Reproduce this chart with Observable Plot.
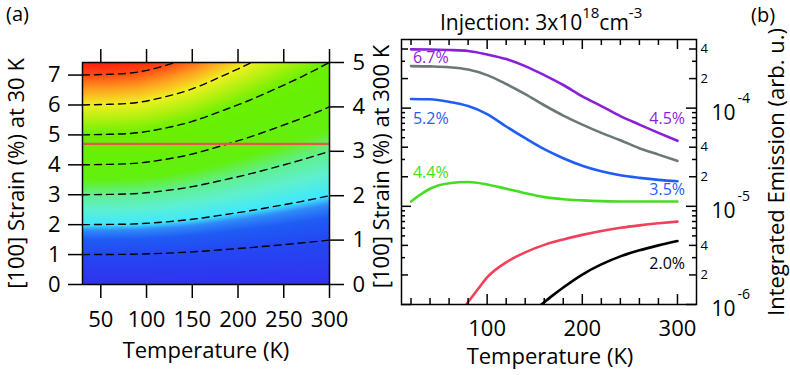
<!DOCTYPE html>
<html><head><meta charset="utf-8">
<script src="https://cdn.jsdelivr.net/npm/d3@7"></script>
<script src="https://cdn.jsdelivr.net/npm/@observablehq/plot@0.6"></script>
<style>
body{margin:0;background:#fff;font-family:"Open Sans",sans-serif;}
#wrap{position:relative;width:790px;height:375px;overflow:hidden;}
#pa{position:absolute;left:0;top:0;}
#pb{position:absolute;left:395px;top:0;}
.lbl{position:absolute;font-family:"Open Sans",sans-serif;color:#000;white-space:nowrap;line-height:1.2;}
.sup{position:relative;font-size:15px;top:-12px;}
</style></head><body>
<div id="wrap">
<div id="pa"></div><div id="pb"></div>
<div class="lbl" style="left:6px;top:2px;font-size:20px">(a)</div>
<div class="lbl" style="left:751px;top:3px;font-size:20px">(b)</div>
<div class="lbl" style="left:440px;top:10px;font-size:21px">Injection: 3x10<span class="sup">18</span>cm<span class="sup">-3</span></div>
</div>
<script>
// ---------- Panel (a) data ----------
const gTemps = [30, 60, 90, 120, 150, 180, 210, 240, 270, 300];
const gFactor = [1.000, 1.004, 1.014, 1.045, 1.09, 1.155, 1.225, 1.305, 1.39, 1.484]; // contour scale factor
const contourLevels = [1, 2, 3, 4, 5, 6, 7];
const leftTicks = [0, 1, 2, 3, 4, 5, 6, 7];
const rightTicks = [0, 1, 2, 3, 4, 5];
const tempTicksA = [50, 100, 150, 200, 250, 300];
const markerStrain = [4.7];
const colorStops = [0, 1.0, 1.5, 1.8, 2.0, 2.5, 3.0, 3.5, 5.0, 5.5, 6.0, 6.5, 7.0, 7.42];
const colorList = ["#3232ee","#2448f2","#1f5cf5","#2f8af8","#40e8ff","#5ef0d0","#60f090","#62f010","#6af000","#b0f010","#f0f020","#ffa020","#ff4a12","#ff1c10"];

// ---------- Panel (b) data ----------
const tempsB = [20,40,60,80,100,120,140,160,180,200,220,240,260,280,300];
const purpleVals = [3.97e-4,3.96e-4,3.91e-4,3.82e-4,3.52e-4,3.16e-4,2.68e-4,2.17e-4,1.72e-4,1.32e-4,1.05e-4,8.3e-5,6.8e-5,5.6e-5,4.65e-5];
const grayVals = [2.68e-4,2.66e-4,2.61e-4,2.47e-4,2.17e-4,1.76e-4,1.39e-4,1.07e-4,8.4e-5,6.8e-5,5.6e-5,4.71e-5,3.91e-5,3.36e-5,2.90e-5];
const blueVals = [1.24e-4,1.23e-4,1.16e-4,1.05e-4,8.7e-5,6.5e-5,4.94e-5,3.82e-5,3.09e-5,2.59e-5,2.27e-5,2.07e-5,1.95e-5,1.86e-5,1.80e-5];
const greenTemps = [20,30,40,60,80,100,120,140,160,180,200,220,240,260,280,300];
const greenVals = [1.12e-5,1.32e-5,1.51e-5,1.72e-5,1.77e-5,1.67e-5,1.51e-5,1.36e-5,1.24e-5,1.18e-5,1.15e-5,1.13e-5,1.12e-5,1.12e-5,1.12e-5,1.12e-5];
const redTemps = [78,90,100,120,140,160,180,200,220,240,260,280,300];
const redVals = [1.0e-6,1.42e-6,1.89e-6,2.69e-6,3.40e-6,4.05e-6,4.60e-6,5.12e-6,5.60e-6,6.04e-6,6.40e-6,6.71e-6,6.98e-6];
const blackTemps = [157,170,180,200,220,240,260,280,300];
const blackVals = [1.0e-6,1.26e-6,1.49e-6,2.02e-6,2.56e-6,3.09e-6,3.56e-6,4.00e-6,4.43e-6];
const seriesNames = ["purple","gray","blue","green","red","black"];
const seriesColors = ["#8a1fd8","#6b7878","#1f5ef5","#44dd22","#f2405a","#000000"];
const seriesTemps = [tempsB, tempsB, tempsB, greenTemps, redTemps, blackTemps];
const seriesVals = [purpleVals, grayVals, blueVals, greenVals, redVals, blackVals];

const lineLabels = ["6.7%","5.2%","4.4%","4.5%","3.5%","2.0%"];
const labelT = [22, 22, 22, 308, 308, 308];
const labelV = [3.24e-4, 7.7e-5, 2.17e-5, 7.7e-5, 1.46e-5, 2.62e-6];
const labelColor = ["#8a1fd8","#1f5ef5","#44dd22","#8a1fd8","#1f5ef5","#000000"];
const labelAnchor = ["start","start","start","end","end","end"];

const xMinorB = [20,40,60,80,120,140,160,180,220,240,260,280];
const xMajorB = [100,200,300];
const yDecades = [1e-6,1e-5,1e-4];
const yLabeled = [2e-6,4e-6,2e-5,4e-5,2e-4,4e-4];
const yMinor = [3e-6,5e-6,6e-6,7e-6,8e-6,9e-6,3e-5,5e-5,6e-5,7e-5,8e-5,9e-5,3e-4];

const FONT = "'Open Sans', sans-serif";

// ---------- Panel (a) ----------
const g300 = gFactor[gFactor.length - 1];
const gAt = d3.scaleLinear().domain(gTemps).range(gFactor);
const contourData = contourLevels.flatMap(s => gTemps.map((t, i) => ({T: t, v: s * gFactor[i], s})));

const pa = Plot.plot({
  width: 395, height: 375,
  marginLeft: 82, marginRight: 66, marginTop: 62, marginBottom: 91,
  style: {fontFamily: FONT, fontSize: "22px", color: "black", background: "white", overflow: "visible"},
  x: {domain: [30, 300]},
  y: {domain: [0, 7.42]},
  color: {type: "linear", domain: colorStops, range: colorList, interpolate: "rgb", clamp: true},
  marks: [
    Plot.raster({x1: 30, x2: 300, y1: 0, y2: 7.42, fill: (x, y) => y / gAt(x), pixelSize: 1}),
    Plot.line(contourData, {x: "T", y: "v", z: "s", stroke: "black", strokeWidth: 1.4, strokeDasharray: "7,5", curve: "natural", clip: true}),
    Plot.ruleY(markerStrain, {stroke: "#e4574f", strokeWidth: 2.2}),
    Plot.frame({stroke: "black", strokeWidth: 1.5}),
    Plot.axisY(leftTicks, {anchor: "left", tickSize: 14, tickPadding: 8, strokeWidth: 1.5, fontSize: 22, label: null}),
    Plot.axisY(rightTicks.map(v => v * g300), {anchor: "right", tickSize: 14, tickPadding: 9, strokeWidth: 1.5, fontSize: 22, label: null,
      tickFormat: d => d3.format(".0f")(d / g300)}),
    Plot.axisX(tempTicksA, {anchor: "bottom", tickSize: 14, tickPadding: 13, strokeWidth: 1.5, fontSize: 22, label: null}),
    Plot.axisX(tempTicksA, {anchor: "top", tickSize: 14, strokeWidth: 1.5, tickFormat: () => "", label: null}),
    Plot.text(["[100] Strain (%) at 30 K"], {frameAnchor: "left", textAnchor: "middle", dx: -66, rotate: -90, fontSize: 22}),
    Plot.text(["[100] Strain (%) at 300 K"], {frameAnchor: "right", textAnchor: "middle", dx: 52, dy: -7, rotate: -90, fontSize: 22}),
    Plot.text(["Temperature (K)"], {frameAnchor: "bottom", dy: 73, fontSize: 22})
  ]
});
document.getElementById("pa").appendChild(pa);

// ---------- Panel (b) ----------
const HB = 375 - 39 - 71, WB = 395 - 6 - 94;
const lineMarks = seriesNames.map((n, k) =>
  Plot.line(seriesTemps[k].map((t, i) => ({T: t, v: seriesVals[k][i]})),
    {x: "T", y: "v", stroke: seriesColors[k], strokeWidth: 2.6, curve: "monotone-x", clip: true}));
const labelMarks = lineLabels.map((s, i) =>
  Plot.text([s], {x: () => labelT[i], y: () => labelV[i], fill: labelColor[i], textAnchor: labelAnchor[i], fontSize: 16}));

const pb = Plot.plot({
  width: 395, height: 375,
  marginLeft: 6, marginRight: 94, marginTop: 39, marginBottom: 71,
  style: {fontFamily: FONT, fontSize: "22px", color: "black", background: "white", overflow: "visible"},
  x: {domain: [10, 320]},
  y: {type: "log", domain: [1e-6, 5e-4], axis: null},
  marks: [
    ...lineMarks,
    ...labelMarks,
    Plot.frame({stroke: "black", strokeWidth: 1.5}),
    Plot.tickX(xMinorB, {x: d => d, insetTop: HB - 6, strokeWidth: 1.5}),
    Plot.tickX(xMinorB, {x: d => d, insetBottom: HB - 6, strokeWidth: 1.5}),
    Plot.tickX(xMajorB, {x: d => d, insetTop: HB - 10, strokeWidth: 1.5}),
    Plot.tickX(xMajorB, {x: d => d, insetBottom: HB - 10, strokeWidth: 1.5}),
    Plot.tickY(yDecades, {y: d => d, insetLeft: WB - 10, strokeWidth: 1.5}),
    Plot.tickY(yDecades, {y: d => d, insetRight: WB - 10, strokeWidth: 1.5}),
    Plot.tickY(yLabeled, {y: d => d, insetLeft: WB - 7, strokeWidth: 1.5}),
    Plot.tickY(yLabeled, {y: d => d, insetRight: WB - 7, strokeWidth: 1.5}),
    Plot.tickY(yMinor, {y: d => d, insetLeft: WB - 4, strokeWidth: 1.5}),
    Plot.tickY(yMinor, {y: d => d, insetRight: WB - 4, strokeWidth: 1.5}),
    Plot.axisX(xMajorB, {anchor: "bottom", tickSize: 0, tickPadding: 16, fontSize: 22, label: null}),
    Plot.text(yLabeled, {y: d => d, text: d => String(Math.round(d / 10 ** Math.floor(Math.log10(d) + 1e-9))), frameAnchor: "right", dx: 4, textAnchor: "start", fontSize: 13}),
    Plot.text(yDecades, {y: d => d, text: () => "10", frameAnchor: "right", dx: 15, dy: 5, textAnchor: "start", fontSize: 21}),
    Plot.text(yDecades, {y: d => d, text: d => String(Math.round(Math.log10(d))), frameAnchor: "right", dx: 41, dy: -10, textAnchor: "start", fontSize: 14}),
    Plot.text(["Integrated Emission (arb. u.)"], {frameAnchor: "right", textAnchor: "middle", dx: 80, rotate: -90, fontSize: 22}),
    Plot.text(["Temperature (K)"], {frameAnchor: "bottom", dx: 1, dy: 59, fontSize: 22})
  ]
});
document.getElementById("pb").appendChild(pb);
</script>
</body></html>
